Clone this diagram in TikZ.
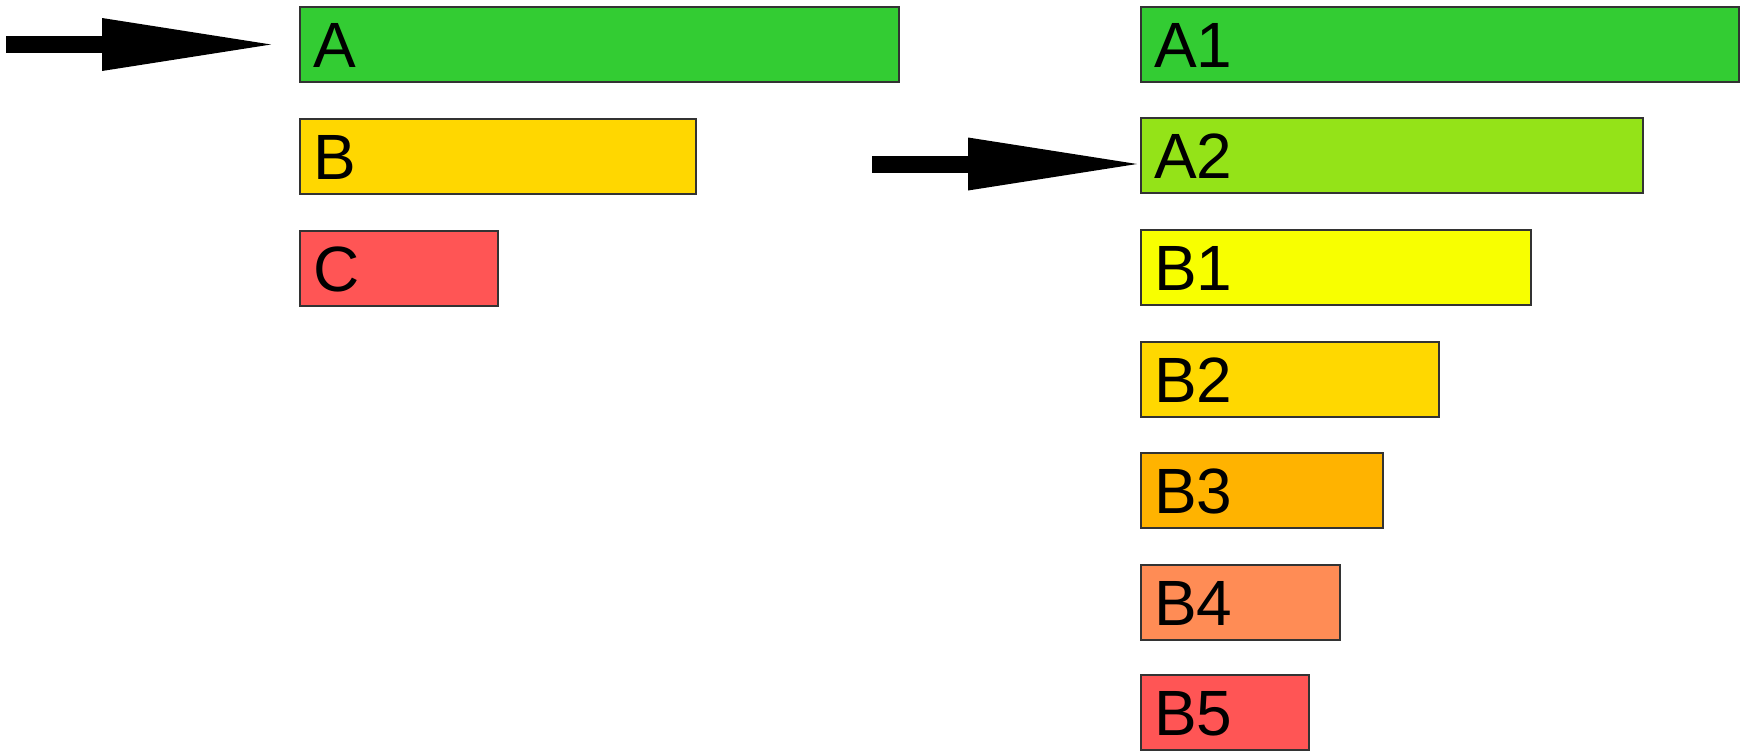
\documentclass[tikz,border=0pt]{standalone}
\usepackage{fontspec}
\setmainfont{Liberation Sans}
\usetikzlibrary{arrows.meta}
\definecolor{barline}{HTML}{333333}
\definecolor{cA}{HTML}{33CC33}
\definecolor{cB}{HTML}{FFD700}
\definecolor{cC}{HTML}{FF5555}
\definecolor{cAtwo}{HTML}{94E318}
\definecolor{cBone}{HTML}{F8FF00}
\definecolor{cBtwo}{HTML}{FFD800}
\definecolor{cBthree}{HTML}{FFB300}
\definecolor{cBfour}{HTML}{FF8C55}
\definecolor{cBfive}{HTML}{FF5555}
\begin{document}
\begin{tikzpicture}[x=1pt,y=1pt,
  bar/.style={draw=barline, line width=2.5pt, rectangle, anchor=north west,
    minimum height=75pt, inner xsep=13pt, inner ysep=0pt, outer sep=0pt,
    align=left, font=\fontsize{64}{64}\selectfont, text height=46pt, text depth=0pt},
  bigarrow/.style={line width=17pt, -{Triangle[length=169pt,width=53pt,line width=0pt]}}
]
\useasboundingbox (0,0) rectangle (1742,-750);
% left column
\node[bar, fill=cA, text width=573pt] (A) at (300,-7) {A};
\node[bar, fill=cB, text width=370pt] (B) at (300,-119) {B};
\node[bar, fill=cC, text width=172pt] (C) at (300,-231) {C};
% right column
\node[bar, fill=cA, text width=572pt] (A1) at (1141,-7) {A1};
\node[bar, fill=cAtwo, text width=476pt] (A2) at (1141,-118) {A2};
\node[bar, fill=cBone, text width=364pt] (B1) at (1141,-230) {B1};
\node[bar, fill=cBtwo, text width=272pt] (B2) at (1141,-342) {B2};
\node[bar, fill=cBthree, text width=216pt] (B3) at (1141,-453) {B3};
\node[bar, fill=cBfour, text width=173pt] (B4) at (1141,-565) {B4};
\node[bar, fill=cBfive, text width=142pt] (B5) at (1141,-675) {B5};
% arrows
\coordinate (s1) at (6,-44.5);
\coordinate (s2) at (872,-164);
\draw[bigarrow, shorten >=29pt] (s1) -- (A.west);
\draw[bigarrow, shorten >=4pt] (s2) -- (s2 -| A2.west);
\end{tikzpicture}
\end{document}
